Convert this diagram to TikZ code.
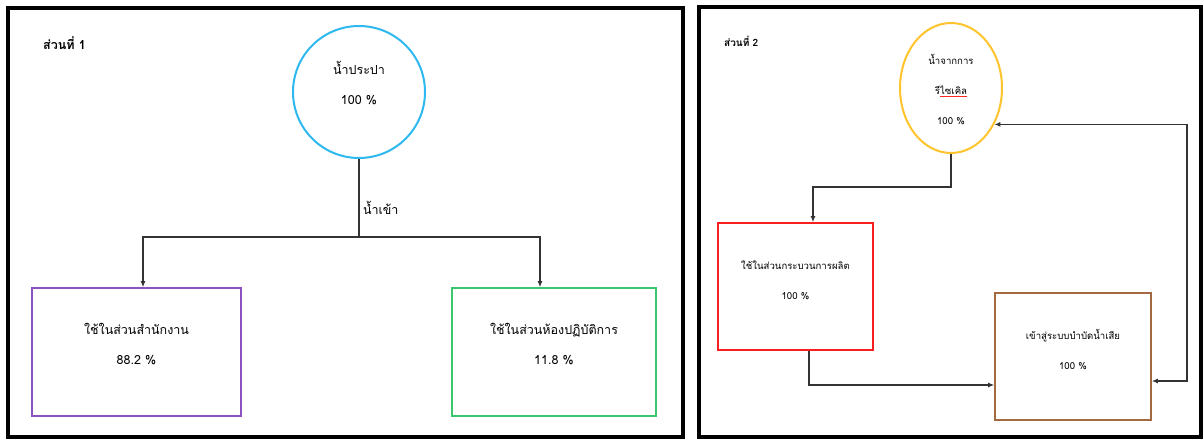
\documentclass[tikz,border=0pt]{standalone}
\usepackage{fontspec}
\setmainfont[Script=Thai]{Loma}
\usetikzlibrary{positioning,calc,arrows.meta,shapes.geometric}

\definecolor{tapblue}{RGB}{45,185,240}
\definecolor{officepurple}{RGB}{140,82,190}
\definecolor{labgreen}{RGB}{55,200,110}
\definecolor{recycleyellow}{RGB}{255,196,45}
\definecolor{prodred}{RGB}{250,30,30}
\definecolor{treatbrown}{RGB}{165,105,65}

% red spell-check line under a word
\newsavebox{\spellbox}
\newcommand{\spellmark}[1]{\sbox{\spellbox}{#1}\rlap{\textcolor{red!85}{\rule[-2.5pt]{\wd\spellbox}{0.7pt}}}\usebox{\spellbox}}

\begin{document}
\begin{tikzpicture}[x=1pt, y=-1pt,
    >={Latex[length=6pt,width=5pt]},
    panel/.style={draw=black, line width=4pt},
    bigtxt/.style={align=center, inner sep=0pt, text height=40pt, text depth=15pt, font=\fontsize{12.5}{30}\selectfont},
    smalltxt/.style={bigtxt, font=\fontsize{9.6}{30}\selectfont},
    areabox/.style={draw, rectangle, line width=1.6pt, minimum height=128pt},
    flow/.style={->, line width=1.4pt, draw=black!80},
    sechead/.style={anchor=west, inner sep=0pt, font=\bfseries\fontsize{12.5}{15}\selectfont}
]
\useasboundingbox (0,0) rectangle (1203,439);

% Part 1
\draw[panel] (8,8) rectangle (683,437);
\node[sechead] (part1) at (43,43) {ส่วนที่ 1};

\node[bigtxt, draw=tapblue, circle, line width=2pt, minimum size=132pt] (tap) at (359,92) {น้ำประปา\\100 \%};
\node[bigtxt, areabox, draw=officepurple, minimum width=209pt] (office) at (136.5,352) {ใช้ในส่วนสำนักงาน\\88.2 \%};
\node[bigtxt, areabox, draw=labgreen, minimum width=204pt] (lab) at (554,352) {ใช้ในส่วนห้องปฏิบัติการ\\11.8 \%};

\coordinate (barL) at (143,237);
\coordinate (barR) at (540,237);
\draw[flow] (tap.south) -- node[right, pos=0.63, font=\fontsize{12.5}{15}\selectfont] (inlet) {น้ำเข้า} (tap.south |- barL) -| (barL |- office.north);
\draw[flow] (tap.south |- barL) -| (barR |- lab.north);

% Part 2
\draw[panel, line width=3.5pt] (699,7) rectangle (1201,437);
\node[sechead, font=\bfseries\fontsize{10}{12}\selectfont] (part2) at (724,41) {ส่วนที่ 2};

\node[smalltxt, draw=recycleyellow, ellipse, line width=2pt, minimum width=102pt, minimum height=130pt, text height=75pt, text depth=3pt] (recycle) at (951,88) {น้ำจากการ\\รี\spellmark{ไซเคิล}\\100 \%};
\node[smalltxt, areabox, draw=prodred, minimum width=155pt, minimum height=127pt] (prod) at (795.5,286.5) {ใช้ในส่วนกระบวนการผลิต\\100 \%};
\node[smalltxt, areabox, draw=treatbrown, minimum width=156pt, minimum height=127pt] (treat) at (1073,356.5) {เข้าสู่ระบบบำบัดน้ำเสีย\\100 \%};

\coordinate (bend) at (813,187);
\coordinate (drop) at (809,385);
\coordinate (loop) at (1187,381);
\draw[flow] (recycle.south) |- (bend) -- (bend |- prod.north);
\draw[flow] (drop |- prod.south) |- (treat.west |- drop);
\draw[flow, <->] (treat.east |- loop) -| (recycle.-40 -| loop) -- (recycle.-40);

\end{tikzpicture}
\end{document}
